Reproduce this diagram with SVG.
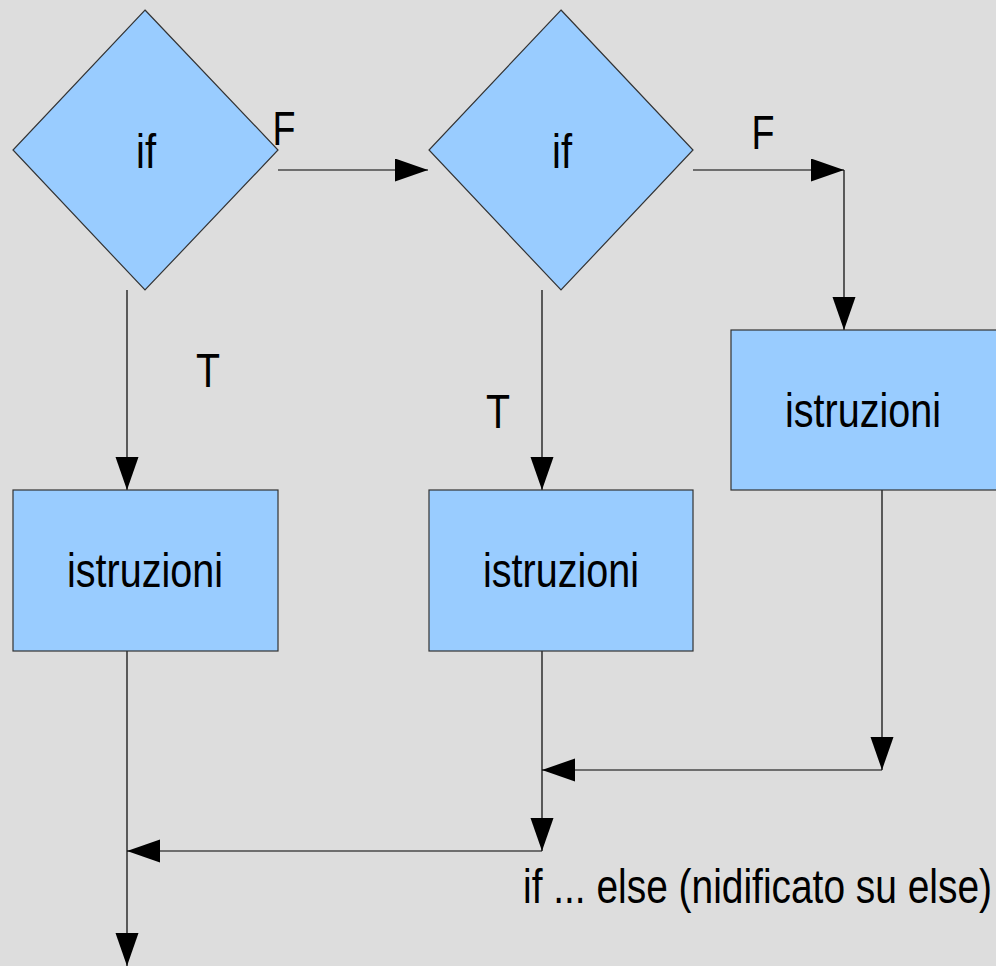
<svg xmlns="http://www.w3.org/2000/svg" width="996" height="966" viewBox="0 0 996 966">
<defs>
<style>
.shape{fill:#99ccff;stroke:#333333;stroke-width:1.2}
.c{fill:none;stroke:#000000;stroke-width:1.2}
text{font-family:"Liberation Sans",Arial,sans-serif;font-size:49px;fill:#000000}
.m{text-anchor:middle}
</style>
<marker id="ah" markerUnits="userSpaceOnUse" markerWidth="34" markerHeight="24" refX="33" refY="11.5" orient="auto">
<path d="M0,0 L33,11.5 L0,23 Z" fill="#000000"/>
</marker>
</defs>
<rect width="996" height="966" fill="#dddddd"/>
<g id="connectors">
<path class="c" d="M278,170 L428,170" marker-end="url(#ah)"/>
<path class="c" d="M693,170 L844,170" marker-end="url(#ah)"/>
<path class="c" d="M844,170 L844,330" marker-end="url(#ah)"/>
<path class="c" d="M127,290 L127,490" marker-end="url(#ah)"/>
<path class="c" d="M542,290 L542,490" marker-end="url(#ah)"/>
<path class="c" d="M882,490 L882,770" marker-end="url(#ah)"/>
<path class="c" d="M882,770 L542,770" marker-end="url(#ah)"/>
<path class="c" d="M542,651 L542,851" marker-end="url(#ah)"/>
<path class="c" d="M542,851 L127,851" marker-end="url(#ah)"/>
<path class="c" d="M127,651 L127,966" marker-end="url(#ah)"/>
<text x="284" y="145" class="m" textLength="23" lengthAdjust="spacingAndGlyphs">F</text>
<text x="763" y="149" class="m" textLength="23" lengthAdjust="spacingAndGlyphs">F</text>
<text x="208" y="387" class="m" textLength="24" lengthAdjust="spacingAndGlyphs">T</text>
<text x="498" y="428" class="m" textLength="24" lengthAdjust="spacingAndGlyphs">T</text>
</g>
<g id="if1">
<polygon class="shape" points="145,10 278,150 145,290 13,150"/>
<text x="146" y="168" class="m" textLength="20" lengthAdjust="spacingAndGlyphs">if</text>
</g>
<g id="if2">
<polygon class="shape" points="561,10 693,150 561,290 429,150"/>
<text x="562" y="168" class="m" textLength="20" lengthAdjust="spacingAndGlyphs">if</text>
</g>
<g id="istr1">
<rect class="shape" x="13" y="490" width="265" height="161"/>
<text x="145" y="587" class="m" textLength="156" lengthAdjust="spacingAndGlyphs">istruzioni</text>
</g>
<g id="istr2">
<rect class="shape" x="429" y="490" width="264" height="161"/>
<text x="561" y="587" class="m" textLength="156" lengthAdjust="spacingAndGlyphs">istruzioni</text>
</g>
<g id="istr3">
<rect class="shape" x="731" y="330" width="268" height="160"/>
<text x="863" y="427" class="m" textLength="156" lengthAdjust="spacingAndGlyphs">istruzioni</text>
</g>
<g id="caption">
<text x="523" y="903" textLength="469" lengthAdjust="spacingAndGlyphs">if ... else (nidificato su else)</text>
</g>
</svg>
